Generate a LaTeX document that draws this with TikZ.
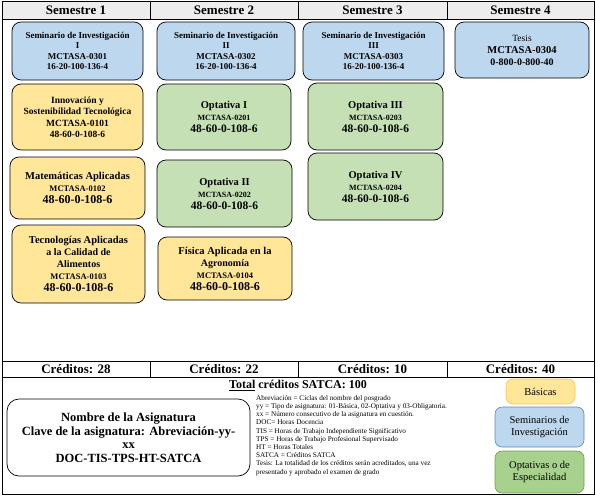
\documentclass[tikz,border=0pt]{standalone}
\usepackage{fontspec}
\setmainfont{Liberation Serif}
\definecolor{amarillo}{HTML}{FFE699}
\definecolor{azul}{HTML}{BDD7EE}
\definecolor{verde}{HTML}{C5E0B4}
\definecolor{verdeleg}{HTML}{A9D18E}
\definecolor{bordeamar}{HTML}{F4C54E}
\definecolor{bordeazul}{HTML}{5B87B8}
\definecolor{bordeverde}{HTML}{6A9E45}
\definecolor{gris}{HTML}{EDEDED}
\newcommand{\sz}[2]{\fontsize{#1}{#2}\selectfont}

\begin{document}
\begin{tikzpicture}[
    x=1pt, y=-1pt,
    curso/.style={rectangle, draw=black, line width=0.7pt, rounded corners=9pt, align=center, inner sep=1pt, font=\bfseries},
    basica/.style={curso, fill=amarillo},
    seminario/.style={curso, fill=azul},
    optativa/.style={curso, fill=verde},
    encab/.style={font=\sz{13}{15}\bfseries},
    leyenda/.style={rectangle, rounded corners=7pt, line width=0.6pt, align=center, font=\sz{10.5}{12.5}}
]
    \useasboundingbox (0,0) rectangle (596,498);
    % table frame
    \fill[gris] (2,1) rectangle (594,19);
    \draw[line width=0.7pt] (2,1) rectangle (594,494);
    \draw[line width=0.7pt] (2,19) -- (594,19);
    \draw[line width=0.7pt] (2,361) -- (594,361);
    \draw[line width=0.7pt] (2,377) -- (594,377);
    \foreach \x in {150,298,447} {
        \draw[line width=0.7pt] (\x,1) -- (\x,19);
        \draw[line width=0.7pt] (\x,361) -- (\x,377);
    }
    \node[encab] (sem1) at (76,10) {Semestre 1};
    \node[encab] (sem2) at (224,10) {Semestre 2};
    \node[encab] (sem3) at (372.5,10) {Semestre 3};
    \node[encab] (sem4) at (520.5,10) {Semestre 4};

    % semestre 1
    \node[seminario, minimum width=131pt, minimum height=58pt, font=\sz{9}{10.5}\bfseries] (s1sem) at (77.5,51)
        {Seminario de Investigación\\I\\MCTASA-0301\\16-20-100-136-4};
    \node[basica, minimum width=131pt, minimum height=66pt, font=\sz{9.5}{11.5}\bfseries] (s1inn) at (77.5,117)
        {Innovación y\\Sostenibilidad Tecnológica\\MCTASA-0101\\48-60-0-108-6};
    \node[basica, minimum width=135pt, minimum height=62pt] (s1mat) at (77.5,188)
        {\sz{10.5}{13}Matemáticas Aplicadas\\\sz{8.5}{11}MCTASA-0102\\\sz{12}{13}48-60-0-108-6};
    \node[basica, minimum width=133pt, minimum height=78pt] (s1tec) at (78.5,264)
        {\sz{10.5}{12}Tecnologías Aplicadas\\a la Calidad de\\Alimentos\\\sz{8.5}{11}MCTASA-0103\\\sz{12}{12.5}48-60-0-108-6};

    % semestre 2
    \node[seminario, minimum width=138pt, minimum height=58pt, font=\sz{9}{10.5}\bfseries] (s2sem) at (226,51)
        {Seminario de Investigación\\II\\MCTASA-0302\\16-20-100-136-4};
    \node[optativa, minimum width=134pt, minimum height=66pt] (s2op1) at (224,117)
        {\sz{10.5}{11}Optativa I\\\sz{8}{9.5}MCTASA-0201\\\sz{11.5}{13}48-60-0-108-6};
    \node[optativa, minimum width=135pt, minimum height=67pt] (s2op2) at (224.5,193.5)
        {\sz{10.5}{11}Optativa II\\\sz{8}{9.5}MCTASA-0202\\\sz{11.5}{13}48-60-0-108-6};
    \node[basica, minimum width=134pt, minimum height=63pt] (s2fis) at (225,268.5)
        {\sz{10.5}{12}Física Aplicada en la\\Agronomía\\\sz{8.5}{12}MCTASA-0104\\\sz{12}{11}48-60-0-108-6};

    % semestre 3
    \node[seminario, minimum width=141pt, minimum height=58pt, font=\sz{9}{10.5}\bfseries] (s3sem) at (373.5,51)
        {Seminario de Investigación\\III\\MCTASA-0303\\16-20-100-136-4};
    \node[optativa, minimum width=135pt, minimum height=67pt] (s3op3) at (375.5,116.5)
        {\sz{10.5}{11}Optativa III\\\sz{8}{9.5}MCTASA-0203\\\sz{11.5}{13}48-60-0-108-6};
    \node[optativa, minimum width=135pt, minimum height=67pt] (s3op4) at (375.5,186.5)
        {\sz{10.5}{11}Optativa IV\\\sz{8}{9.5}MCTASA-0204\\\sz{11.5}{13}48-60-0-108-6};

    % semestre 4
    \node[seminario, minimum width=134pt, minimum height=56pt] (s4tes) at (522,50)
        {\sz{9.5}{11}\mdseries Tesis\\\sz{10.5}{12}\bfseries MCTASA-0304\\0-800-0-800-40};

    % creditos
    \node[encab] (cr1) at (76,369) {Créditos: 28};
    \node[encab] (cr2) at (224,369) {Créditos: 22};
    \node[encab] (cr3) at (372.5,369) {Créditos: 10};
    \node[encab] (cr4) at (520.5,369) {Créditos: 40};
    \node[font=\sz{12}{14}\bfseries] (total) at (298,385.5) {\underline{Total} créditos SATCA: 100};

    % clave
    \node[rectangle, draw=black, line width=0.7pt, rounded corners=12pt, minimum width=243pt, minimum height=77pt,
        align=center, font=\sz{12.5}{13.5}\bfseries] (clave) at (128.5,437.5)
        {Nombre de la Asignatura\\Clave de la asignatura: Abreviación-yy-\\xx\\DOC-TIS-TPS-HT-SATCA};
    \node[anchor=north west, align=left, inner sep=0pt, font=\sz{7.2}{8.2}] (notas) at (256,395)
        {Abreviación = Ciclas del nombre del posgrado\\
         yy = Tipo de asignatura: 01-Básica, 02-Optativa y 03-Obligatoria.\\
         xx = Número consecutivo de la asignatura en cuestión.\\
         DOC= Horas Docencia\\
         TIS = Horas de Trabajo Independiente Significativo\\
         TPS = Horas de Trabajo Profesional Supervisado\\
         HT = Horas Totales\\
         SATCA = Créditos SATCA\\
         Tesis: La totalidad de los créditos serán acreditados, una vez\\
         presentado y aprobado el examen de grado};

    % leyenda
    \node[leyenda, draw=bordeamar, fill=amarillo, minimum width=69pt, minimum height=25pt] (lbas) at (540.5,391.5) {Básicas};
    \node[leyenda, draw=bordeazul, fill=azul, minimum width=89pt, minimum height=40pt] (lsem) at (539.5,427) {Seminarios de\\Investigación};
    \node[leyenda, draw=bordeverde, fill=verdeleg, minimum width=89pt, minimum height=42pt] (lopt) at (539.5,472) {Optativas o de\\Especialidad};
\end{tikzpicture}
\end{document}
